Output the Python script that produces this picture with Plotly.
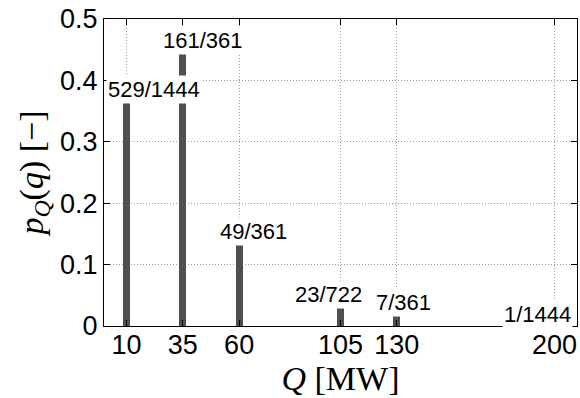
import plotly.graph_objects as go

# Discrete probability mass function of the capacity Q
q_values = [10, 35, 60, 105, 130, 200]
numerators = [529, 161, 49, 23, 7, 1]
denominators = [1444, 361, 361, 722, 361, 1444]
y_ticks = [0, 0.1, 0.2, 0.3, 0.4, 0.5]

probabilities = [n / d for n, d in zip(numerators, denominators)]
fractions = [f"{n}/{d}" for n, d in zip(numerators, denominators)]

# horizontal placement of each fraction label relative to its bar (pixels)
label_xshift = [27, 20, 14, -12, 7, -17]

BAR_COLOR = "#4f4f4f"
GRID_COLOR = "#9a9a9a"
SANS = "Liberation Sans, Arial, sans-serif"
SERIF = "Liberation Serif, Times New Roman, serif"

fig = go.Figure()
fig.add_trace(go.Bar(
    x=q_values,
    y=probabilities,
    width=3,
    marker=dict(color=BAR_COLOR, line=dict(width=0)),
    hoverinfo="skip",
))

for q, p, txt, dx in zip(q_values, probabilities, fractions, label_xshift):
    fig.add_annotation(
        x=q, y=p, text=txt, showarrow=False,
        xanchor="center", yanchor="bottom",
        xshift=dx, yshift=-3,
        bgcolor="white", borderpad=1,
        font=dict(family=SANS, size=22, color="black"),
    )

axis_common = dict(
    showline=True, linecolor="black", linewidth=1, mirror="ticks",
    ticks="inside", ticklen=6, tickcolor="black", tickwidth=1,
    showgrid=True, gridcolor=GRID_COLOR, griddash="1px,2px", gridwidth=1,
    zeroline=False,
    tickfont=dict(family=SANS, size=27, color="black"),
)

fig.update_xaxes(
    range=[0, 210], tickmode="array", tickvals=q_values,
    ticktext=[str(v) for v in q_values],
    ticklabelstandoff=-5,
    title=dict(text="<i>Q</i> [MW]", standoff=0,
               font=dict(family=SERIF, size=34, color="black")),
    **axis_common,
)
fig.update_yaxes(
    range=[0, 0.5], tickmode="array", tickvals=y_ticks,
    ticktext=[f"{v:g}" for v in y_ticks],
    title=dict(text="<i>p</i><sub><i>Q</i></sub>(<i>q</i>) [−]", standoff=6,
               font=dict(family=SERIF, size=34, color="black")),
    **axis_common,
)

fig.update_layout(
    width=580, height=398,
    margin=dict(l=104, r=3, t=19, b=72),
    paper_bgcolor="white", plot_bgcolor="white",
    showlegend=False,
    bargap=0,
)

fig.write_html("out.html")
